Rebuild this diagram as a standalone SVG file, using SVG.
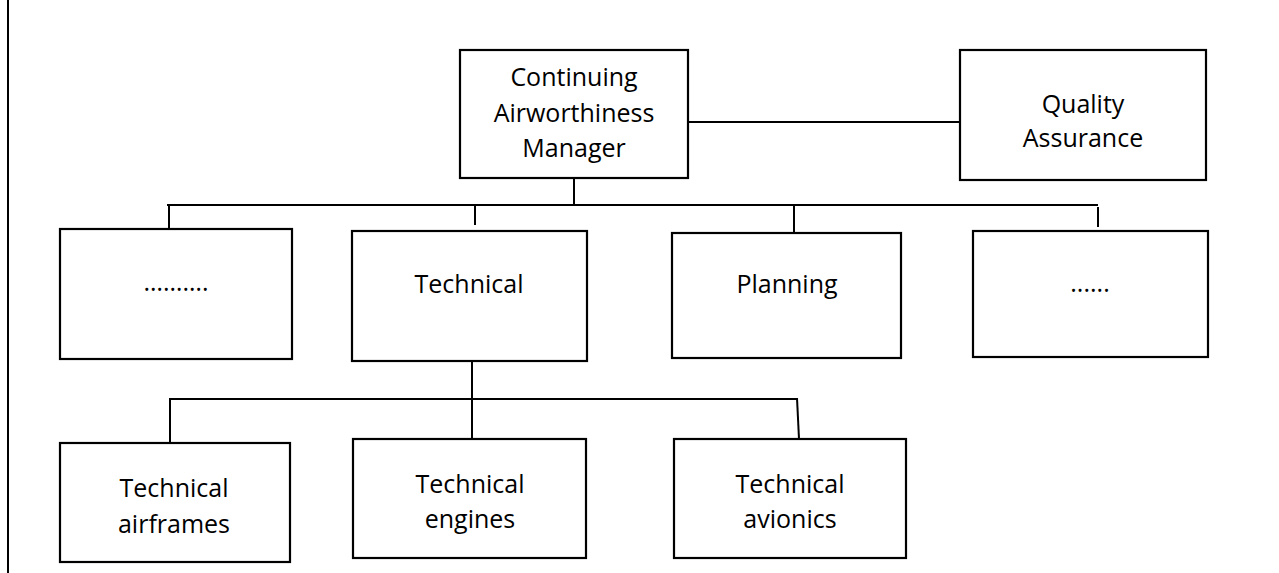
<svg xmlns="http://www.w3.org/2000/svg" width="1279" height="573" viewBox="0 0 1279 573">
<style>
.box{fill:#fff;stroke:#000;stroke-width:2.2}
.ln{stroke:#000;stroke-width:2;fill:none}
.t{font-family:"Open Sans","Liberation Sans",sans-serif;font-size:25px;fill:#000;text-anchor:middle}
</style>
<rect width="1279" height="573" fill="#fff"/>
<line class="ln" x1="8" y1="0" x2="8" y2="573" stroke-width="2.5"/>
<g id="connectors">
<line class="ln" x1="688" y1="122" x2="960" y2="122"/>
<line class="ln" x1="574" y1="178" x2="574" y2="206"/>
<line class="ln" x1="167" y1="205" x2="1098" y2="205"/>
<line class="ln" x1="169" y1="205" x2="169" y2="229"/>
<line class="ln" x1="475" y1="205" x2="475" y2="225"/>
<line class="ln" x1="794" y1="205" x2="794" y2="233"/>
<line class="ln" x1="1098" y1="207" x2="1098" y2="227"/>
<line class="ln" x1="472" y1="362" x2="472" y2="439"/>
<line class="ln" x1="169" y1="399" x2="798" y2="399"/>
<line class="ln" x1="170" y1="399" x2="170" y2="443"/>
<line class="ln" x1="797" y1="398" x2="799" y2="439"/>
</g>
<g id="cam">
<rect class="box" x="460" y="50" width="228" height="128"/>
<text class="t" x="574" y="86">Continuing</text>
<text class="t" x="574" y="122">Airworthiness</text>
<text class="t" x="574" y="157">Manager</text>
</g>
<g id="qa">
<rect class="box" x="960" y="50" width="246" height="130"/>
<text class="t" x="1083" y="113">Quality</text>
<text class="t" x="1083" y="147">Assurance</text>
</g>
<g id="other1">
<rect class="box" x="60" y="229" width="232" height="130"/>
<text class="t" x="176" y="291">……….</text>
</g>
<g id="technical">
<rect class="box" x="352" y="231" width="235" height="130"/>
<text class="t" x="469" y="293">Technical</text>
</g>
<g id="planning">
<rect class="box" x="672" y="233" width="229" height="125"/>
<text class="t" x="787" y="293">Planning</text>
</g>
<g id="other2">
<rect class="box" x="973" y="231" width="235" height="126"/>
<text class="t" x="1090" y="292">......</text>
</g>
<g id="airframes">
<rect class="box" x="60" y="443" width="230" height="119"/>
<text class="t" x="174" y="497">Technical</text>
<text class="t" x="174" y="533">airframes</text>
</g>
<g id="engines">
<rect class="box" x="353" y="439" width="233" height="119"/>
<text class="t" x="470" y="493">Technical</text>
<text class="t" x="470" y="528">engines</text>
</g>
<g id="avionics">
<rect class="box" x="674" y="439" width="232" height="119"/>
<text class="t" x="790" y="493">Technical</text>
<text class="t" x="790" y="528">avionics</text>
</g>
</svg>
